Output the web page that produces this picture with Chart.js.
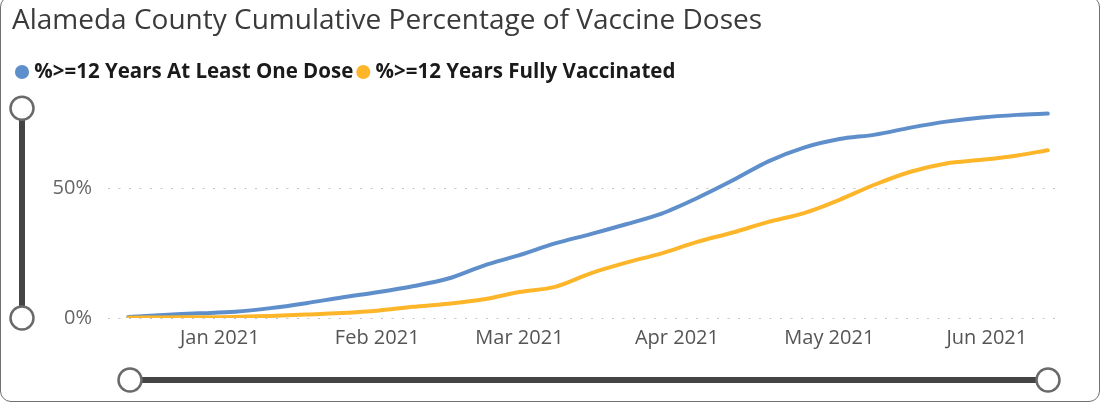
<!DOCTYPE html>
<html>
<head>
<meta charset="utf-8">
<script src="https://cdn.jsdelivr.net/npm/chart.js@4.4.1/dist/chart.umd.min.js"></script>
<style>
    html, body { margin: 0; padding: 0; background: #fff; }
    #wrap { position: relative; width: 1102px; height: 405px; overflow: hidden; }
    #frame {
        position: absolute; left: 0; top: -4px; width: 1100px; height: 406px;
        box-sizing: border-box; border: 1.5px solid #707070; border-radius: 11px;
        pointer-events: none;
    }
</style>
</head>
<body>
<div id="wrap">
    <canvas id="vaccineChart" width="1102" height="405"></canvas>
    <div id="frame"></div>
</div>
<script>
const dates = [
    "2020-12-14", "2020-12-21", "2020-12-28", "2021-01-04", "2021-01-11", "2021-01-18", "2021-01-25",
    "2021-02-01", "2021-02-08", "2021-02-15", "2021-02-22", "2021-03-01", "2021-03-08", "2021-03-15",
    "2021-03-22", "2021-03-29", "2021-04-05", "2021-04-12", "2021-04-19", "2021-04-26", "2021-05-03",
    "2021-05-10", "2021-05-17", "2021-05-24", "2021-05-31", "2021-06-07", "2021-06-13"
];
const atLeastOneDose = [
    0.4, 1.2, 1.8, 2.4, 3.8, 5.7, 7.9,
    9.9, 12.2, 15.2, 20.2, 24.2, 28.7, 32.3,
    36.1, 40.2, 46.2, 53.0, 60.3, 65.6, 68.9,
    70.6, 73.3, 75.6, 77.2, 78.2, 78.7
];
const fullyVaccinated = [
    0.1, 0.2, 0.3, 0.4, 0.8, 1.3, 1.9,
    2.8, 4.3, 5.5, 7.2, 10.0, 12.0, 17.2,
    21.3, 24.9, 29.3, 32.9, 37.0, 40.4, 45.5,
    51.4, 56.3, 59.5, 60.9, 62.6, 64.6
];
const monthTicks = ["2021-01-01", "2021-02-01", "2021-03-01", "2021-04-01", "2021-05-01", "2021-06-01"];
const monthLabels = ["Jan 2021", "Feb 2021", "Mar 2021", "Apr 2021", "May 2021", "Jun 2021"];
const yTicks = [0, 50];

// day number relative to 1 Jan 2021
const dayOf = s => (Date.parse(s + "T00:00:00Z") - Date.parse("2021-01-01T00:00:00Z")) / 86400000;

const BLUE = "#5f8fcb";
const YELLOW = "#fdb62a";
const FONT = "'Open Sans', 'Noto Sans', sans-serif";

// stretch the legend box so the plot starts where the original does
const legendHeight = {
    id: "legendHeight",
    beforeInit(chart) {
        const fit = chart.legend.fit;
        chart.legend.fit = function () {
            fit.call(this);
            this.height = 54.5;
        };
    }
};

// the zoom sliders of the original visual
const sliders = {
    id: "sliders",
    afterDraw(chart) {
        const ctx = chart.ctx;
        const a = chart.chartArea;
        const track = (x1, y1, x2, y2) => {
            ctx.beginPath();
            ctx.moveTo(x1, y1);
            ctx.lineTo(x2, y2);
            ctx.lineWidth = 6;
            ctx.strokeStyle = "#444";
            ctx.stroke();
        };
        const knob = (x, y) => {
            ctx.beginPath();
            ctx.arc(x, y, 11.5, 0, Math.PI * 2);
            ctx.fillStyle = "#fff";
            ctx.fill();
            ctx.lineWidth = 2.5;
            ctx.strokeStyle = "#6a6a6a";
            ctx.stroke();
        };
        ctx.save();
        ctx.lineCap = "butt";
        // vertical
        track(22, a.top, 22, a.bottom);
        knob(22, a.top);
        knob(22, a.bottom);
        // horizontal
        const y = 380, x1 = a.left + 22, x2 = a.right - 15;
        track(x1, y, x2, y);
        knob(x1, y);
        knob(x2, y);
        ctx.restore();
    }
};

const ctx = document.getElementById("vaccineChart").getContext("2d");
const vaccineChart = new Chart(ctx, {
    type: "line",
    data: {
        datasets: [
            {
                label: "%>=12 Years At Least One Dose",
                data: dates.map((d, i) => ({ x: dayOf(d), y: atLeastOneDose[i] })),
                borderColor: BLUE,
                backgroundColor: BLUE,
                order: 1,
            },
            {
                label: "%>=12 Years Fully Vaccinated",
                data: dates.map((d, i) => ({ x: dayOf(d), y: fullyVaccinated[i] })),
                borderColor: YELLOW,
                backgroundColor: YELLOW,
                order: 0,
            },
        ],
    },
    options: {
        responsive: false,
        animation: false,
        events: [],
        devicePixelRatio: 1,
        elements: {
            point: { radius: 0 },
            line: { borderWidth: 4, tension: 0.3, borderCapStyle: "round", borderJoinStyle: "round" }
        },
        layout: {
            padding: { left: 12, right: 39, top: 0, bottom: 0 }
        },
        scales: {
            x: {
                type: "linear",
                min: dayOf("2020-12-10"),
                max: dayOf("2021-06-16"),
                grid: { display: false, drawTicks: false },
                border: { display: false },
                afterFit: s => { s.height = 87; },
                afterBuildTicks: s => { s.ticks = monthTicks.map(d => ({ value: dayOf(d) })); },
                ticks: {
                    autoSkip: false,
                    maxRotation: 0,
                    padding: 8,
                    color: "#555",
                    font: { family: FONT, size: 20 },
                    callback: (v, i) => monthLabels[i]
                }
            },
            y: {
                min: 0,
                max: 80.77,
                afterFit: s => { s.width = 96; },
                afterBuildTicks: s => { s.ticks = yTicks.map(v => ({ value: v })); },
                grid: { color: "#c4c4c4", lineWidth: 1, drawTicks: false },
                border: { display: false, dash: [2, 8.5] },
                ticks: {
                    padding: 16,
                    color: "#666",
                    font: { family: FONT, size: 20 },
                    callback: v => v + "%"
                }
            }
        },
        plugins: {
            title: {
                display: true,
                text: "Alameda County Cumulative Percentage of Vaccine Doses",
                align: "start",
                color: "#3a3a3a",
                font: { family: FONT, size: 28, weight: "normal" },
                padding: { top: 4, bottom: 16.1 }
            },
            legend: {
                align: "start",
                labels: {
                    usePointStyle: true,
                    pointStyle: "circle",
                    boxWidth: 4,
                    boxHeight: 10,
                    padding: 8,
                    color: "#1a1a1a",
                    font: { family: FONT, size: 20.5, weight: "bold" },
                    generateLabels: chart => Chart.defaults.plugins.legend.labels.generateLabels(chart)
                        .map(l => ({ ...l, lineWidth: 0 })),
                    sort: (a, b) => a.datasetIndex - b.datasetIndex
                }
            },
            tooltip: { enabled: false }
        }
    },
    plugins: [legendHeight, sliders]
});
</script>
</body>
</html>
